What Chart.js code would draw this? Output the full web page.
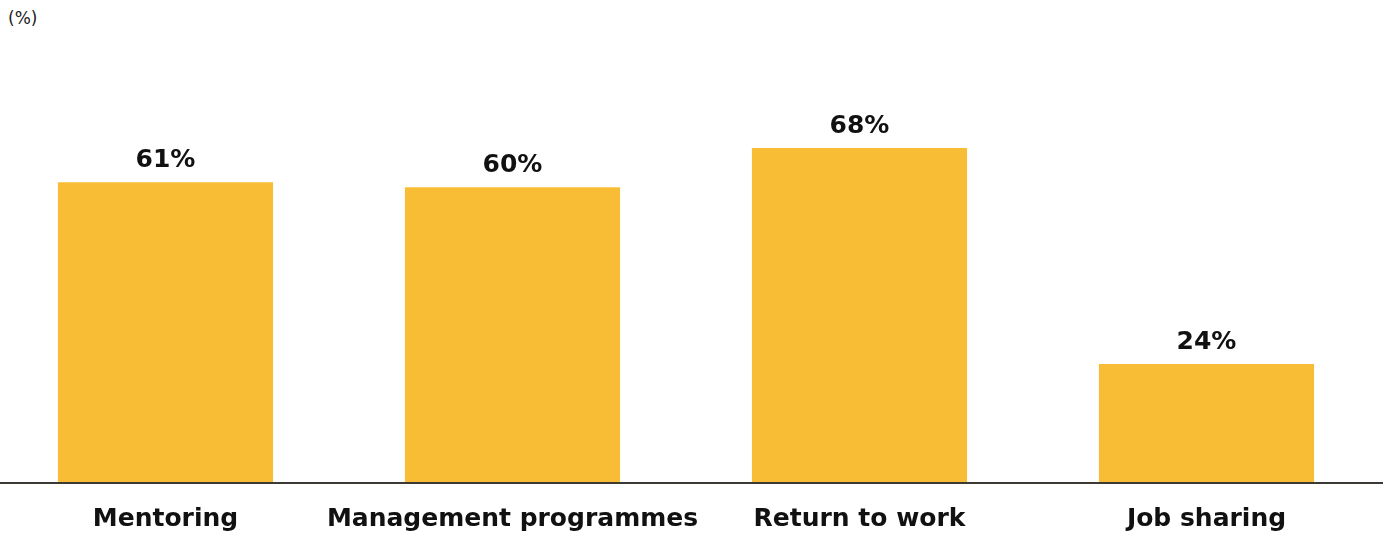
<!DOCTYPE html>
<html>
<head>
<meta charset="utf-8">
<script src="https://cdn.jsdelivr.net/npm/chart.js@4.4.1/dist/chart.umd.min.js"></script>
<style>
  html, body { margin: 0; padding: 0; background: #ffffff; overflow: hidden; }
  body { width: 1383px; height: 535px; position: relative; }
  #unit { position: absolute; left: 8px; top: 8px; font: 17px "DejaVu Sans", sans-serif; color: #222; }
  #wrap { position: absolute; left: -8px; top: 0; width: 1391px; height: 556px; }
</style>
</head>
<body>
<div id="unit">(%)</div>
<div id="wrap"><canvas id="chart"></canvas></div>
<script>
// Share of companies offering each programme (%)
const categories = ["Mentoring", "Management programmes", "Return to work", "Job sharing"];
const shareValues = [61, 60, 68, 24];
const valueLabels = ["61%", "60%", "68%", "24%"];

const BAR_COLOR = "#F9BC35";
const LABEL_FONT = 'bold 25px "DejaVu Sans", sans-serif';

// Writes the value above each bar and draws the baseline across the full width
const barLabels = {
  id: "barLabels",
  afterDatasetsDraw(chart) {
    const ctx = chart.ctx;
    const meta = chart.getDatasetMeta(0);
    ctx.save();
    ctx.font = LABEL_FONT;
    ctx.fillStyle = "#111111";
    ctx.textAlign = "center";
    ctx.textBaseline = "alphabetic";
    meta.data.forEach((bar, i) => {
      ctx.fillText(valueLabels[i], bar.x, bar.y - 15);
    });
    const y0 = Math.round(chart.scales.y.getPixelForValue(0));
    ctx.strokeStyle = "#3d3a36";
    ctx.lineWidth = 2;
    ctx.beginPath();
    ctx.moveTo(0, y0 + 1);
    ctx.lineTo(chart.width, y0 + 1);
    ctx.stroke();
    ctx.restore();
  }
};

new Chart(document.getElementById("chart"), {
  type: "bar",
  data: {
    labels: categories,
    datasets: [{
      data: shareValues,
      backgroundColor: BAR_COLOR,
      borderWidth: 0,
      categoryPercentage: 1,
      barPercentage: 0.62
    }]
  },
  options: {
    responsive: true,
    maintainAspectRatio: false,
    animation: false,
    events: [],
    layout: { padding: { top: 89, left: 0, right: 3, bottom: 0 } },
    plugins: {
      legend: { display: false },
      tooltip: { enabled: false },
      title: { display: false }
    },
    scales: {
      x: {
        offset: true,
        grid: { display: false, drawTicks: false },
        border: { display: false },
        ticks: {
          color: "#111111",
          font: { family: '"DejaVu Sans", sans-serif', size: 25, weight: "bold" },
          padding: 22,
          maxRotation: 0,
          autoSkip: false
        }
      },
      y: {
        display: false,
        min: 0,
        max: 80
      }
    }
  },
  plugins: [barLabels]
});
</script>
</body>
</html>
